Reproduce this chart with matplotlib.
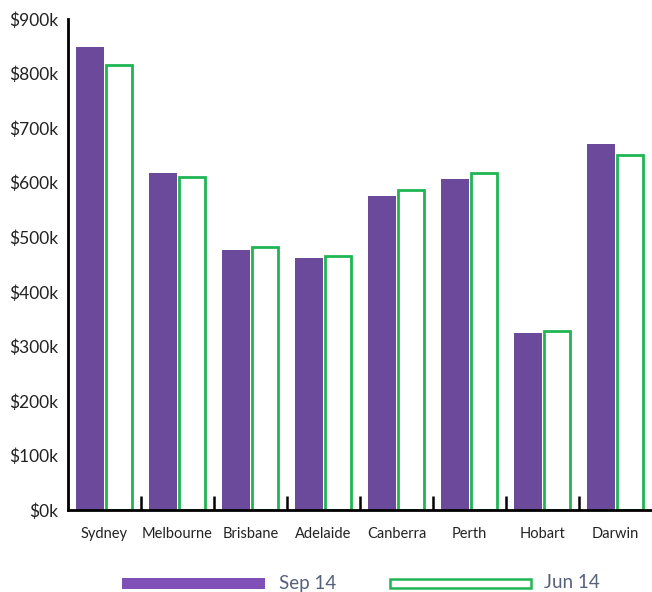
import numpy as np
import matplotlib.pyplot as plt
from matplotlib.patches import Rectangle

# median values ($k) by city, two quarters
cities = ["Sydney", "Melbourne", "Brisbane", "Adelaide", "Canberra", "Perth", "Hobart", "Darwin"]
sep14 = [848, 618, 477, 462, 576, 607, 325, 670]
jun14 = [816, 611, 482, 466, 587, 618, 328, 651]
series_names = ["Sep 14", "Jun 14"]

purple = "#6b4a9b"
purple_legend = "#8050b8"
green = "#1fb553"

plt.rcParams['font.family'] = ['Lato', 'DejaVu Sans']

fig = plt.figure(figsize=(6.52, 5.92), dpi=100)
ax = fig.add_axes([68 / 652, 1 - 510 / 592, 1 - 68 / 652, 491 / 592])

x = np.arange(len(cities))
w = 0.38
ax.bar(x - w / 2 - 0.005, sep14, width=w, color=purple, linewidth=0)
ax.bar(x + w / 2 + 0.005, jun14, width=w - 0.02, facecolor="white", edgecolor=green, linewidth=2)

ax.set_xlim(-0.5, len(cities) - 0.5)
ax.set_ylim(0, 900)

yt = np.arange(0, 901, 100)
ax.set_yticks(yt)
ax.set_yticklabels([f"${v}k" for v in yt], fontsize=12.5, color="#222222")
ax.tick_params(axis="y", length=0, pad=7)

# category labels at centres, small inward ticks at group boundaries
ax.set_xticks(x)
ax.set_xticklabels(cities, fontsize=10.5, color="#222222")
ax.tick_params(axis="x", which="major", length=0, pad=12)
ax.set_xticks(np.arange(0.5, len(cities) - 0.5, 1), minor=True)
ax.tick_params(axis="x", which="minor", direction="in", length=10, width=1.8, color="black")

for s in ["top", "right"]:
    ax.spines[s].set_visible(False)
ax.spines["left"].set_linewidth(2)
ax.spines["bottom"].set_linewidth(2)

# legend row under the chart
fig.add_artist(Rectangle((122 / 652, 1 - 589 / 592), 143 / 652, 11 / 592,
                         transform=fig.transFigure, facecolor=purple_legend, edgecolor="none"))
fig.text(279 / 652, 1 - 583 / 592, series_names[0], fontsize=13.5, color="#56617a",
         va="center", ha="left")
fig.add_artist(Rectangle((390 / 652, 1 - 588 / 592), 141 / 652, 9 / 592,
                         transform=fig.transFigure, facecolor="white", edgecolor=green, linewidth=1.8))
fig.text(544 / 652, 1 - 583 / 592, series_names[1], fontsize=13.5, color="#56617a",
         va="center", ha="left")

fig.savefig("out.png", dpi=100)
